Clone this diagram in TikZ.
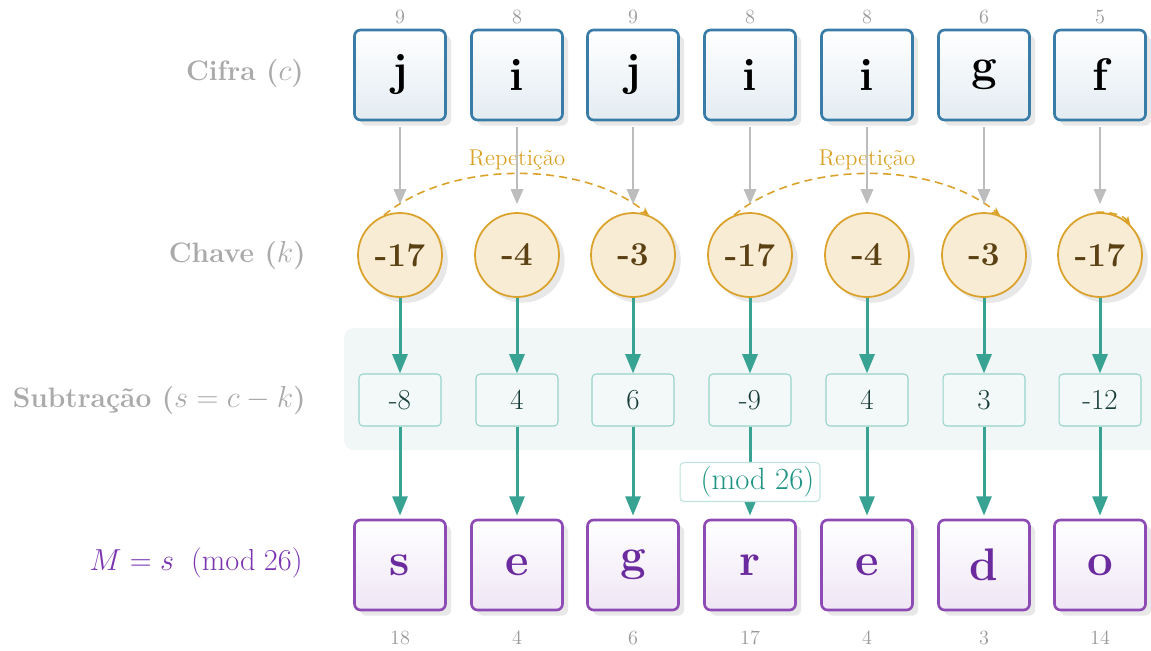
\documentclass[tikz,border=0pt]{standalone}
\usetikzlibrary{arrows.meta,shadows}
\definecolor{cipherline}{HTML}{3A7CA8}
\definecolor{cipherbot}{HTML}{E3ECF2}
\definecolor{keyfill}{HTML}{F8ECD4}
\definecolor{keyline}{HTML}{DAA22A}
\definecolor{keytext}{HTML}{5A4012}
\definecolor{arrowgray}{HTML}{BDBDBD}
\definecolor{teal}{HTML}{38A393}
\definecolor{subline}{HTML}{96D4C9}
\definecolor{subfill}{HTML}{F3F9F8}
\definecolor{subtext}{HTML}{163C38}
\definecolor{bandfill}{HTML}{F1F7F6}
\definecolor{modtext}{HTML}{1F9484}
\definecolor{modline}{HTML}{BFE3DD}
\definecolor{outline}{HTML}{8E4BB5}
\definecolor{outbot}{HTML}{EFE6F5}
\definecolor{outtext}{HTML}{6B2A9E}
\definecolor{labelgray}{HTML}{AAAAAA}
\definecolor{numgray}{HTML}{999999}
\definecolor{mlabel}{HTML}{7B35B0}
\begin{document}
\begin{tikzpicture}[x=0.02cm,y=-0.02cm,
  softshadow/.style={drop shadow={shadow xshift=3.2pt,shadow yshift=-3.2pt,fill=black!9,opacity=1}},
  cbox/.style={draw=cipherline,line width=1.5pt,rounded corners=0.12cm,
    minimum width=1.82cm,minimum height=1.8cm,inner sep=0pt,
    top color=white,bottom color=cipherbot,softshadow,
    font=\bfseries\fontsize{26}{30}\selectfont,text=black},
  obox/.style={cbox,draw=outline,bottom color=outbot,text=outtext},
  kcirc/.style={circle,draw=keyline,line width=1pt,fill=keyfill,
    minimum size=1.68cm,inner sep=0pt,softshadow,
    font=\bfseries\fontsize{19}{22}\selectfont,text=keytext},
  sbox/.style={draw=subline,line width=0.6pt,fill=subfill,rounded corners=0.08cm,
    minimum width=1.64cm,minimum height=1.04cm,inner sep=0pt,
    font=\fontsize{16.5}{19}\selectfont,text=subtext},
  numlbl/.style={font=\fontsize{11.5}{13}\selectfont,text=numgray},
  rowlbl/.style={anchor=east,inner sep=0pt,font=\bfseries\fontsize{16}{19}\selectfont,text=labelgray},
  grayarrow/.style={draw=arrowgray,line width=1.1pt,
    -{Triangle[width=7pt,length=8.5pt]},shorten <=0.12cm,shorten >=0.16cm},
  tealarrow/.style={draw=teal,line width=1.7pt,
    -{Triangle[width=8.5pt,length=11pt]}},
  reparc/.style={draw=keyline,line width=0.9pt,dash pattern=on 4.5pt off 3pt,
    -{Stealth[length=5pt,width=4pt]}},
  replbl/.style={font=\fontsize{13}{15}\selectfont,text=keyline},
  modlbl/.style={draw=modline,line width=0.6pt,fill=white,rounded corners=0.08cm,
    minimum width=2.8cm,minimum height=0.78cm,inner sep=0pt,
    font=\fontsize{17.5}{20}\selectfont,text=modtext}]
\useasboundingbox (0,0) rectangle (1151,650);

% background band behind the subtraction row
\fill[bandfill,rounded corners=0.2cm] (344,328) rectangle (1170,450);

% row titles
\node[rowlbl] (t1) at (304,73) {Cifra ($c$)};
\node[rowlbl] (t2) at (306,255) {Chave ($k$)};
\node[rowlbl] (t3) at (306,400) {Subtração ($s = c - k$)};
\node[rowlbl,font=\fontsize{16}{19}\selectfont,text=mlabel] (t4) at (303,563)
  {$M = s\ \ (\mathrm{mod}\ 26)$};

% column positions
\foreach \i/\x in {1/400,2/517,3/633,4/750,5/867,6/984,7/1100}{
  \coordinate (p\i) at (\x,75);
  \coordinate (q\i) at (\x,255);
  \coordinate (r\i) at (\x,400);
  \coordinate (u\i) at (\x,565);
}

% repetition arcs, drawn first so the key circles sit on top
\path (q1) node[kcirc,draw=none,fill=none,drop shadow={opacity=0}] (k1) {}
      (q3) node[kcirc,draw=none,fill=none,drop shadow={opacity=0}] (k3) {}
      (q4) node[kcirc,draw=none,fill=none,drop shadow={opacity=0}] (k4) {}
      (q6) node[kcirc,draw=none,fill=none,drop shadow={opacity=0}] (k6) {}
      (q7) node[kcirc,draw=none,fill=none,drop shadow={opacity=0}] (k7) {};
\draw[reparc] (k1.112) .. controls (450,160) and (583,160) .. (k3.68);
\draw[reparc] (k4.112) .. controls (800,160) and (934,160) .. (k6.68);
\draw[reparc] (k7.95) .. controls (1110,211) and (1124,216) .. (k7.45);
\node[replbl] (rep1) at (517,160) {Repetição};
\node[replbl] (rep2) at (867,160) {Repetição};

% cipher letters, keys, differences and plaintext
\foreach \i/\x/\c/\cn/\k/\s/\m/\mn in
  {1/400/j/9/-17/-8/s/18, 2/517/i/8/-4/4/e/4, 3/633/j/9/-3/6/g/6,
   4/750/i/8/-17/-9/r/17, 5/867/i/8/-4/4/e/4, 6/984/g/6/-3/3/d/3,
   7/1100/f/5/-17/-12/o/14}{
  \node[cbox] (c\i) at (p\i) {\c};
  \node[numlbl] (cn\i) at (\x,17) {\cn};
  \node[kcirc] (k\i) at (q\i) {\k};
  \node[sbox] (s\i) at (r\i) {\s};
  \node[obox] (o\i) at (u\i) {\m};
  \node[numlbl] (on\i) at (\x,638) {\mn};
  \draw[grayarrow] (c\i.south) -- (k\i.north);
  \draw[tealarrow] (k\i.south) -- (s\i.north);
  \draw[tealarrow,shorten >=0.06cm] (s\i.south) -- (o\i.north);
}

% modular reduction note on the fourth column
\node[modlbl] (mod) at (750,482) {\hspace{8.5pt}(mod 26)};
\end{tikzpicture}
\end{document}
